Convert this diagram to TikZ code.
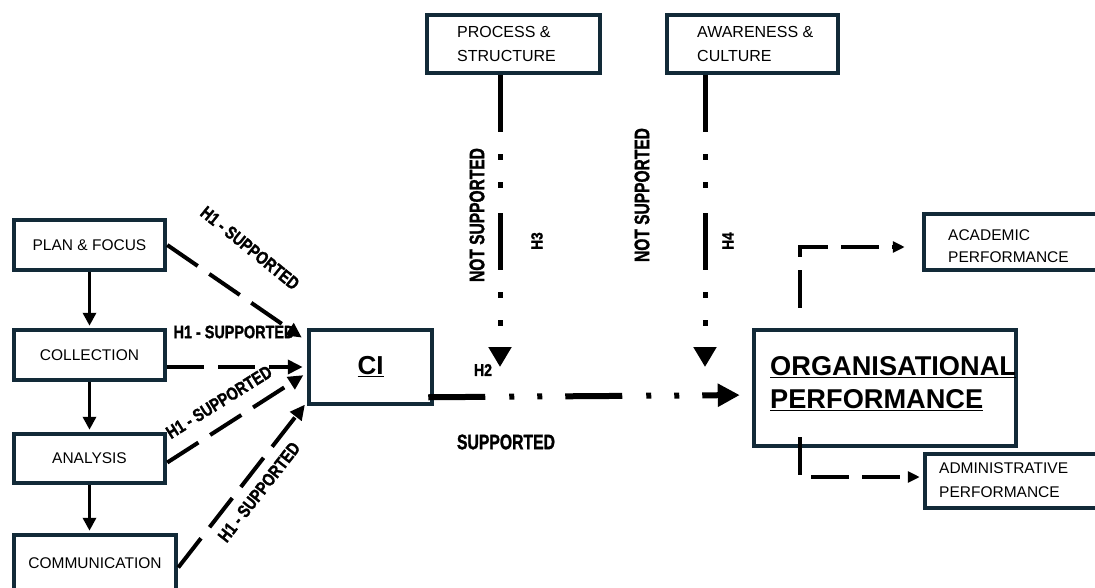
\documentclass[tikz,border=0pt]{standalone}
\usepackage{fontspec}
\setmainfont{Liberation Sans}
\newfontfamily\heavyfont[FakeBold=1.6]{Liberation Sans Bold}
\usepackage{graphicx}
\usetikzlibrary{arrows.meta}
\definecolor{boxline}{RGB}{18,42,56}
% heavy, horizontally condensed label text: size, x-scale, text
\newcommand\condlab[3]{\scalebox{#2}[1]{\fontsize{#1}{#1}\heavyfont #3}}

\begin{document}
\begin{tikzpicture}[x=1pt,y=-1pt,
  box/.style={draw=boxline, line width=4.5pt, fill=white, inner sep=0pt,
    font=\fontsize{15.5}{22}\selectfont},
  boxtext/.style={anchor=west, align=left, inner sep=0pt,
    font=\fontsize{16}{24}\selectfont},
  flow/.style={line width=3.5pt, shorten >=2pt,
    -{Triangle[length=13pt,width=13pt]}},
  hyp/.style={line width=4pt, dash pattern=on 37pt off 14pt,
    -{Triangle[length=15pt,width=14pt]}},
  mainlink/.style={line width=6pt,
    dash pattern=on 57pt off 24pt on 5pt off 23pt on 5pt off 23pt,
    -{Triangle[length=22pt,width=22pt]}},
  modlink/.style={line width=5pt,
    dash pattern=on 57pt off 22pt on 6pt off 22pt on 6pt off 25pt,
    -{Triangle[length=20pt,width=22pt]}},
  outlink/.style={line width=3.5pt, dash pattern=on 38pt off 13pt,
    -{Triangle[length=12pt,width=11pt]}}
]
\useasboundingbox (0,0) rectangle (1095,587);
\clip (0,0) rectangle (1095,587);

% intelligence cycle steps
\node[box, minimum width=151pt, minimum height=50pt] (pf) at (89.5,245) {PLAN \& FOCUS};
\node[box, minimum width=151pt, minimum height=50pt] (col) at (89.5,355) {COLLECTION};
\node[box, minimum width=151pt, minimum height=49pt] (ana) at (89.5,458.5) {ANALYSIS};
\node[box, minimum width=162pt, minimum height=57pt] (com) at (95,563.5) {COMMUNICATION};

% central construct
\node[box, minimum width=123pt, minimum height=74pt,
  font=\fontsize{26}{26}\selectfont\bfseries] (ci) at (370.5,367) {\underline{CI}};

% moderators
\node[box, minimum width=173pt, minimum height=58pt] (ps) at (513.5,44) {};
\node[boxtext] (pst) at (457,44) {PROCESS \&\\STRUCTURE};
\node[box, minimum width=171pt, minimum height=58pt] (aw) at (752.5,44) {};
\node[boxtext] (awt) at (697,44) {AWARENESS \&\\CULTURE};

% outcome
\node[box, minimum width=262pt, minimum height=116pt] (op) at (885,388) {};
\node[boxtext, font=\fontsize{27.2}{33}\selectfont\bfseries] (opt) at (770,383.5)
  {\underline{ORGANISATIONAL}\\\underline{PERFORMANCE}};

\node[box, minimum width=200pt, minimum height=56pt] (ac) at (1024,242) {};
\node[boxtext, font=\fontsize{15.5}{22}\selectfont] (act) at (948,246) {ACADEMIC\\PERFORMANCE};
\node[box, minimum width=200pt, minimum height=54pt] (adm) at (1025,481) {};
\node[boxtext, font=\fontsize{15.5}{24}\selectfont] (admt) at (939,480) {ADMINISTRATIVE\\PERFORMANCE};

% cycle flow
\draw[flow] (pf.south) -- (col.north);
\draw[flow] (col.south) -- (ana.north);
\draw[flow] (ana.south) -- (ana.south |- com.north);

% H1 links
\draw[hyp, shorten >=6pt] (pf.east) -- ([yshift=26pt]ci.west);
\draw[hyp, shorten >=4pt] ([yshift=-12pt]col.east) -- (ci.west);
\draw[hyp, shorten >=4pt] ([yshift=-4pt]ana.east) -- ([yshift=-6pt]ci.west);
\draw[hyp, shorten >=3pt] ([yshift=-4pt]com.east) -- ([yshift=4pt]ci.south west);

% H2 link
\draw[mainlink, shorten >=12pt] ([xshift=-6pt,yshift=9pt]ci.south east) -- ([yshift=-7pt]op.west);

% H3 / H4 moderating links
\coordinate (t3) at (500,367);
\coordinate (t4) at (705,367);
\draw[modlink] ([xshift=-13.5pt]ps.south) -- (t3);
\draw[modlink] ([xshift=-47.5pt]aw.south) -- (t4);

% performance dimensions
\draw[outlink, shorten >=17pt] ([xshift=48pt,yshift=20pt]op.north west) |- ([yshift=-5pt]ac.west);
\draw[outlink, shorten >=3pt] ([xshift=48pt,yshift=11pt]op.south west) |- ([yshift=4pt]adm.west);

% hypothesis labels
\node[rotate=-39] (l1) at (250,248) {\condlab{18}{0.8}{H1 - SUPPORTED}};
\node (l2) at (234,332) {\condlab{18}{0.8}{H1 - SUPPORTED}};
\node[rotate=32] (l3) at (219,402) {\condlab{18}{0.8}{H1 - SUPPORTED}};
\node[rotate=52] (l4) at (259,492) {\condlab{18}{0.8}{H1 - SUPPORTED}};
\node[rotate=90] (n3) at (477,215) {\condlab{21}{0.74}{NOT SUPPORTED}};
\node[rotate=90] (n4) at (642,195) {\condlab{21}{0.74}{NOT SUPPORTED}};
\node[rotate=90] (h3) at (537,241) {\condlab{16}{0.85}{H3}};
\node[rotate=90] (h4) at (728,241) {\condlab{16}{0.85}{H4}};
\node (h2) at (483,370) {\condlab{17}{0.83}{H2}};
\node (sup) at (506,442) {\condlab{21}{0.75}{SUPPORTED}};
\end{tikzpicture}
\end{document}
